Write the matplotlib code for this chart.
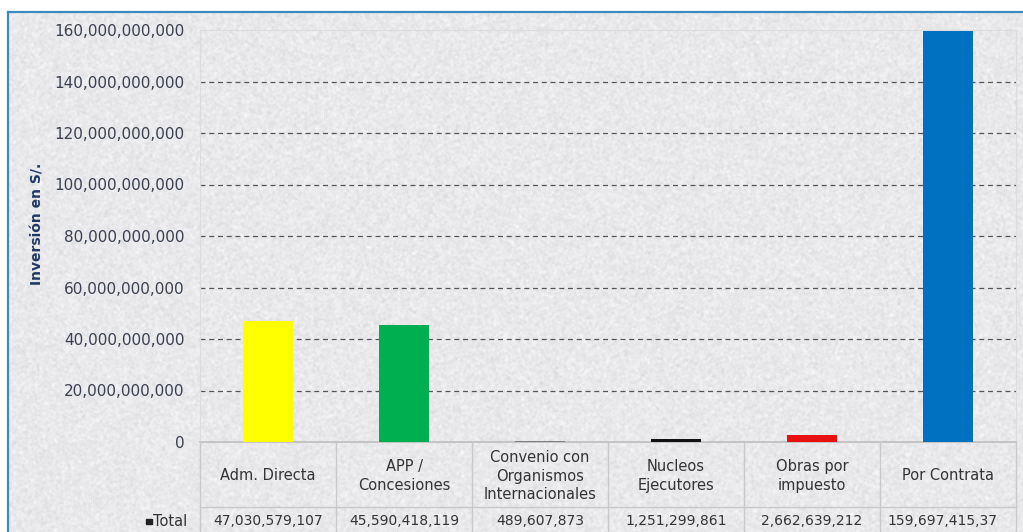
import matplotlib
matplotlib.use("Agg")
import matplotlib.pyplot as plt
import matplotlib.transforms as mtransforms
from matplotlib.patches import Rectangle
import numpy as np

# Inversión por modalidad de ejecución
CATEGORIES = ["Adm. Directa", "APP /\nConcesiones", "Convenio con\nOrganismos\nInternacionales",
              "Nucleos\nEjecutores", "Obras por\nimpuesto", "Por Contrata"]
TOTALS = [47030579107, 45590418119, 489607873, 1251299861, 2662639212, 159697415370]
BAR_COLORS = ["#FFFF00", "#00B050", "#7F7F7F", "#111111", "#E81010", "#0070C0"]
Y_TICKS = [0, 20e9, 40e9, 60e9, 80e9, 100e9, 120e9, 140e9, 160e9]

W, H = 1023, 532
plt.rcParams['font.family'] = ['DejaVu Sans']

fig = plt.figure(figsize=(W / 100, H / 100), dpi=100)
fig.patch.set_facecolor("white")


def px(x0, y0, x1, y1):
    """Figure rect from pixel box (top-left origin)"""
    return [x0 / W, 1 - y1 / H, (x1 - x0) / W, (y1 - y0) / H]


# granite-like background inside the frame
bg = fig.add_axes(px(8, 12, W, H), zorder=-5)
rng = np.random.default_rng(3)
noise = rng.normal(0, 1, (520, 1015))
k = np.ones(3) / 3
noise = np.apply_along_axis(lambda r: np.convolve(r, k, mode="same"), 1, noise)
noise = np.apply_along_axis(lambda c: np.convolve(c, k, mode="same"), 0, noise)
tex = np.clip(0.915 + 0.045 * noise, 0, 1)
bg.imshow(np.dstack([tex, tex, tex * 1.01]).clip(0, 1), aspect="auto", interpolation="bilinear")
bg.set_axis_off()

# blue frame
fig.add_artist(plt.Line2D([8 / W, 1], [1 - 12 / H, 1 - 12 / H], color="#3B8AC4", lw=1.6))
fig.add_artist(plt.Line2D([8 / W, 8 / W], [0, 1 - 12 / H], color="#3B8AC4", lw=1.6))

# plot area
PL, PT, PR, PB = 200, 30, 1016, 442
ax = fig.add_axes(px(PL, PT, PR, PB))
ax.patch.set_alpha(0)
x = np.arange(len(CATEGORIES))
ax.bar(x, TOTALS, width=0.37, color=BAR_COLORS, zorder=3)
ax.set_xlim(-0.5, len(CATEGORIES) - 0.5)
ax.set_ylim(0, 160e9)
ax.set_yticks(Y_TICKS)
ax.set_yticklabels([f"{int(v):,}" for v in Y_TICKS], color="#3a4050", fontsize=11)
ax.tick_params(axis="y", length=0, pad=11)
ax.set_xticks([])
for v in Y_TICKS[1:-1]:
    ax.axhline(v, color="#555555", lw=0.9, ls=(0, (4, 3)), zorder=1)
for s in ["top", "right", "left"]:
    ax.spines[s].set_color("#dcdcdc")
    ax.spines[s].set_linewidth(0.8)
ax.spines["bottom"].set_color("#bdbdbd")
ax.spines["bottom"].set_linewidth(1.2)
ax.set_ylabel("Inversión en S/.", color="#1F3864", fontweight="bold", fontsize=10, labelpad=8)
ax.yaxis.set_label_coords(-0.19, 0.529)

# data table under the bars
trans = mtransforms.blended_transform_factory(ax.transData, fig.transFigure)
y_line = 1 - 507 / H
grid_c = "#c8c8c8"
fig.add_artist(plt.Line2D([PL / W, PR / W], [y_line, y_line], color=grid_c, lw=1))
for b in np.arange(len(CATEGORIES) + 1) - 0.5:
    fig.add_artist(plt.Line2D([b, b], [0, 1 - PB / H], color=grid_c, lw=1, transform=trans))
cell_w = (PR - PL) / len(CATEGORIES)
renderer = fig.canvas.get_renderer()
for i, (cat, val) in enumerate(zip(CATEGORIES, TOTALS)):
    fig.text(i, 1 - 476 / H, cat, transform=trans, ha="center", va="center",
             fontsize=10.5, color="#333333", linespacing=1.3)
    cx0 = PL + i * cell_w
    t = fig.text(0, 0, f"{val:,}", transform=None, fontsize=10, color="#333333",
                 ha="left", va="center")
    # centre the value in its cell; a value too wide for it starts at the left and is cut
    tw = t.get_window_extent(renderer).width
    if tw < cell_w - 18:
        t.set_position((cx0 + (cell_w - tw) / 2, H - 521))
    else:
        t.set_position((cx0 + 7, H - 521))
        t.set_clip_box(mtransforms.Bbox.from_extents(cx0, 0, cx0 + cell_w - 18, H))
        t.set_clip_on(True)
fig.add_artist(Rectangle((146 / W, 1 - 524 / H), 6 / W, 5 / H, color="#222222",
                         transform=fig.transFigure))
fig.text(153 / W, 1 - 521 / H, "Total", fontsize=10.5, color="#333333", va="center")

fig.savefig("out.png", dpi=100)
